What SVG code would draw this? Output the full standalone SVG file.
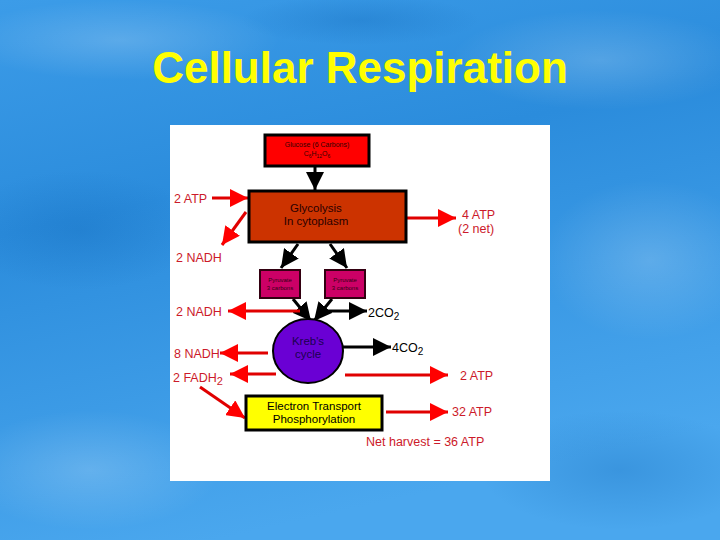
<svg xmlns="http://www.w3.org/2000/svg" width="720" height="540" viewBox="0 0 720 540">
<defs>
<linearGradient id="bg" x1="0" y1="0" x2="0.3" y2="1">
<stop offset="0" stop-color="#3c9ce8"/>
<stop offset="0.4" stop-color="#2b8cdc"/>
<stop offset="1" stop-color="#4aa7ee"/>
</linearGradient>
<radialGradient id="blob" cx="0.5" cy="0.5" r="0.5">
<stop offset="0" stop-color="#ffffff" stop-opacity="0.18"/>
<stop offset="1" stop-color="#ffffff" stop-opacity="0"/>
</radialGradient>
<radialGradient id="dark" cx="0.5" cy="0.5" r="0.5">
<stop offset="0" stop-color="#0a5fb0" stop-opacity="0.25"/>
<stop offset="1" stop-color="#0a5fb0" stop-opacity="0"/>
</radialGradient>
<marker id="hr" markerUnits="userSpaceOnUse" markerWidth="18" markerHeight="18" viewBox="0 0 16 16" refX="16" refY="8" orient="auto"><path d="M0,0 L16,8 L0,16 z" fill="#ff0000"/></marker>
<marker id="hb" markerUnits="userSpaceOnUse" markerWidth="18" markerHeight="18" viewBox="0 0 16 16" refX="16" refY="8" orient="auto"><path d="M0,0 L16,8 L0,16 z" fill="#000"/></marker>
<style>
.red{stroke:#e00000;stroke-width:3;fill:none;marker-end:url(#hr)}
.blk{stroke:#000;stroke-width:3;fill:none;marker-end:url(#hb)}
.lbl{font-family:"Liberation Sans",Arial,sans-serif;font-size:12.5px;fill:#cc1a2a}
.bl{font-family:"Liberation Sans",Arial,sans-serif;font-size:12.5px;fill:#000}
.in{font-family:"Liberation Sans",Arial,sans-serif;text-anchor:middle}
.box{stroke:#000;stroke-width:3}
</style>
</defs>
<rect width="720" height="540" fill="url(#bg)"/>
<ellipse cx="120" cy="40" rx="160" ry="40" fill="url(#blob)"/>
<ellipse cx="600" cy="60" rx="150" ry="50" fill="url(#blob)"/>
<ellipse cx="80" cy="230" rx="120" ry="60" fill="url(#dark)"/>
<ellipse cx="650" cy="260" rx="110" ry="80" fill="url(#blob)"/>
<ellipse cx="620" cy="470" rx="140" ry="60" fill="url(#dark)"/>
<ellipse cx="90" cy="470" rx="130" ry="60" fill="url(#blob)"/>
<ellipse cx="360" cy="20" rx="120" ry="25" fill="url(#dark)"/>
<text x="360" y="83" text-anchor="middle" font-family="'Liberation Sans',Arial,sans-serif" font-weight="bold" font-size="44" fill="#ffff00">Cellular Respiration</text>
<rect x="170" y="125" width="380" height="356" fill="#ffffff"/>
<g id="connectors">
<line class="blk" x1="315" y1="167" x2="315" y2="190"/>
<line class="red" x1="212" y1="198" x2="248" y2="198"/>
<line class="red" x1="246" y1="212" x2="222" y2="245"/>
<line class="red" x1="407" y1="218" x2="456" y2="218"/>
<line class="blk" x1="298" y1="244" x2="281" y2="268"/>
<line class="blk" x1="330" y1="244" x2="347" y2="268"/>
<line class="blk" x1="293" y1="299" x2="311" y2="321"/>
<line class="blk" x1="332" y1="299" x2="314" y2="321"/>
<line class="red" x1="300" y1="311" x2="228" y2="311"/>
<line class="blk" x1="318" y1="311" x2="367" y2="311"/>
<line class="blk" x1="343" y1="347" x2="391" y2="347"/>
<line class="red" x1="268" y1="353" x2="220" y2="353"/>
<line class="red" x1="276" y1="374" x2="230" y2="374"/>
<line class="red" x1="345" y1="375" x2="448" y2="375" stroke-width="5"/>
<line class="red" x1="200" y1="387" x2="245" y2="418"/>
<line class="red" x1="386" y1="412" x2="448" y2="412"/>
</g>
<g id="glucose">
<rect class="box" x="265" y="135" width="104" height="31" fill="#ff0000"/>
<text class="in" x="317" y="147" font-size="7" fill="#330000">Glucose (6 Carbons)</text>
<text class="in" x="317" y="156" font-size="7" fill="#330000">C<tspan font-size="5" dy="2">6</tspan><tspan dy="-2">H</tspan><tspan font-size="5" dy="2">12</tspan><tspan dy="-2">O</tspan><tspan font-size="5" dy="2">6</tspan></text>
</g>
<g id="glycolysis">
<rect class="box" x="249" y="191" width="157" height="51" fill="#cc3300"/>
<text class="in" x="316" y="212" font-size="11.5" fill="#2a0000">Glycolysis</text>
<text class="in" x="316" y="225" font-size="11.5" fill="#2a0000">In cytoplasm</text>
</g>
<g id="pyruvate1">
<rect x="260" y="270" width="40" height="28" fill="#cc0066" stroke="#330011" stroke-width="2"/>
<text class="in" x="280" y="282" font-size="6" fill="#330011">Pyruvate</text>
<text class="in" x="280" y="290" font-size="6" fill="#330011">3 carbons</text>
</g>
<g id="pyruvate2">
<rect x="325" y="270" width="40" height="28" fill="#cc0066" stroke="#330011" stroke-width="2"/>
<text class="in" x="345" y="282" font-size="6" fill="#330011">Pyruvate</text>
<text class="in" x="345" y="290" font-size="6" fill="#330011">3 carbons</text>
</g>
<g id="krebs">
<ellipse cx="308" cy="351" rx="35" ry="32" fill="#6a00d4" stroke="#000" stroke-width="2"/>
<text class="in" x="308" y="345" font-size="11.5" fill="#1a0050">Kreb's</text>
<text class="in" x="308" y="358" font-size="11.5" fill="#1a0050">cycle</text>
</g>
<g id="etc">
<rect class="box" x="246" y="396" width="136" height="34" fill="#ffff00"/>
<text class="in" x="314" y="410" font-size="11.5" fill="#000">Electron Transport</text>
<text class="in" x="314" y="423" font-size="11.5" fill="#000">Phosphorylation</text>
</g>
<g id="labels">
<text class="lbl" x="174" y="203">2 ATP</text>
<text class="lbl" x="176" y="262">2 NADH</text>
<text class="lbl" x="462" y="219" font-size="12">4 ATP</text>
<text class="lbl" x="458" y="233" font-size="12">(2 net)</text>
<text class="lbl" x="176" y="316">2 NADH</text>
<text class="bl" x="368" y="317">2CO<tspan font-size="10" dy="3">2</tspan></text>
<text class="bl" x="392" y="352">4CO<tspan font-size="10" dy="3">2</tspan></text>
<text class="lbl" x="174" y="358">8 NADH</text>
<text class="lbl" x="173" y="382">2 FADH<tspan font-size="11" dy="3">2</tspan></text>
<text class="lbl" x="460" y="380">2 ATP</text>
<text class="lbl" x="452" y="416">32 ATP</text>
<text class="lbl" x="366" y="446">Net harvest = 36 ATP</text>
</g>
</svg>
